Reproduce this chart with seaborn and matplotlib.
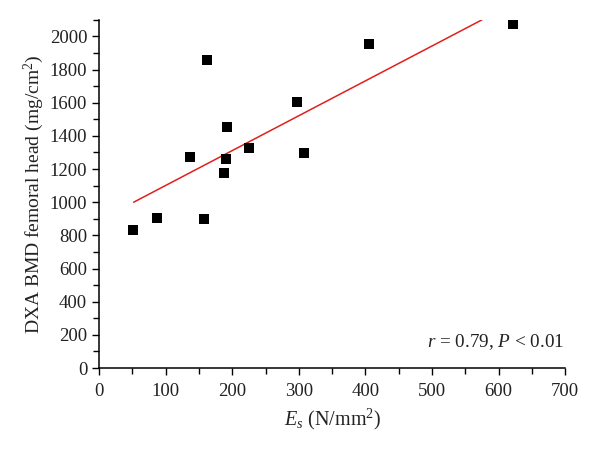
import matplotlib
matplotlib.use("Agg")
import matplotlib.pyplot as plt
import matplotlib.ticker as mticker
import pandas as pd
import seaborn as sns

# Scatter points
es_values = [51, 87, 157, 136, 162, 192, 190, 188, 225, 297, 308, 405, 622]
bmd_values = [832, 904, 896, 1273, 1855, 1454, 1261, 1178, 1325, 1607, 1295, 1952, 2073]

# Fitted line end points (as drawn)
fit_x = [52, 575]
fit_y = [1000, 2100]

x_ticks = [0, 100, 200, 300, 400, 500, 600, 700]
y_ticks = [0, 200, 400, 600, 800, 1000, 1200, 1400, 1600, 1800, 2000]

sns.set_style("ticks")
plt.rcParams["font.family"] = ["Liberation Serif", "DejaVu Serif"]
plt.rcParams["mathtext.fontset"] = "custom"
plt.rcParams["mathtext.rm"] = "Liberation Serif"
plt.rcParams["mathtext.it"] = "Liberation Serif:italic"

points = pd.DataFrame({"es": es_values, "bmd": bmd_values})
fit = pd.DataFrame({"x": fit_x, "y": fit_y})

fig = plt.figure(figsize=(6.0, 4.51), dpi=100)
ax = fig.add_axes([0.165, 0.184, 0.777, 0.772])

sns.lineplot(data=fit, x="x", y="y", ax=ax, color="#e0201c", linewidth=1.1)
sns.scatterplot(data=points, x="es", y="bmd", ax=ax, marker="s", s=48,
                color="black", edgecolor="black", linewidth=0, zorder=3)

ax.set_xlim(0, 700)
ax.set_ylim(0, 2100)
ax.set_xticks(x_ticks)
ax.set_yticks(y_ticks)
ax.xaxis.set_minor_locator(mticker.MultipleLocator(50))
ax.yaxis.set_minor_locator(mticker.MultipleLocator(100))
ax.tick_params(which="major", direction="out", length=5, width=1, labelsize=13.5,
               color="black", labelcolor="#222222")
ax.tick_params(axis="x", which="major", pad=6)
ax.tick_params(which="minor", direction="out", length=4, width=1, color="black")
sns.despine(ax=ax)
for side in ("left", "bottom"):
    ax.spines[side].set_color("black")
    ax.spines[side].set_linewidth(1.1)

ax.set_xlabel(r"$E_s$ (N/mm$^2$)", fontsize=14.5, color="#222222", labelpad=5)
ax.set_ylabel(r"DXA BMD femoral head (mg/cm$^2$)", fontsize=14,
              color="#222222", labelpad=3)

ax.text(0.997, 0.045, r"$r$ = 0.79, $P$ < 0.01", transform=ax.transAxes,
        ha="right", va="bottom", fontsize=13.8, color="#222222")

fig.savefig("out.png", dpi=100)
